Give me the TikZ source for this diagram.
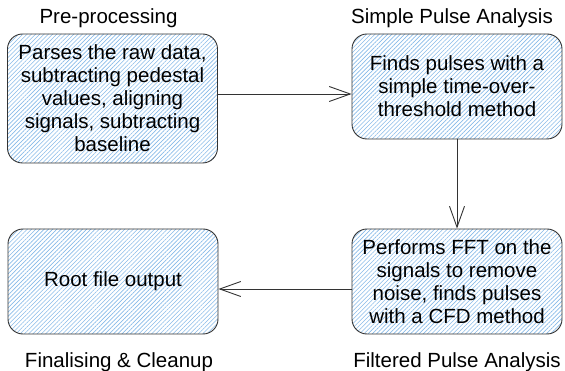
\documentclass[tikz,border=0pt]{standalone}
\usepackage{fontspec}
\setmainfont{Liberation Sans}
\usetikzlibrary{arrows.meta,patterns.meta}

\definecolor{hatchblue}{RGB}{135,186,232}
\definecolor{edgegray}{RGB}{51,51,51}

\begin{document}
\begin{tikzpicture}[x=1pt,y=-1pt,
	stage/.style={draw=edgegray,line width=0.9pt,rounded corners=15pt,
		pattern={Lines[angle=45,distance=3pt,line width=0.6pt]},pattern color=hatchblue,
		minimum width=210pt,minimum height=105pt,align=center,inner sep=0pt,
		font=\fontsize{20.5}{23}\selectfont},
	steptitle/.style={anchor=base,font=\fontsize{20.5}{23}\selectfont},
	flow/.style={draw=edgegray,line width=0.9pt,-{Straight Barb[length=21pt,width=15pt]}}]
		\useasboundingbox (0,0) rectangle (565,371);

		\node[stage,minimum height=129pt] (pre) at (112.5,98.5) {Parses the raw data,\\subtracting pedestal\\values, aligning\\signals, subtracting\\baseline};
		\node[stage] (simple) at (457,86.5) {Finds pulses with a\\simple time-over-\\threshold method};
		\node[stage] (filtered) at (457,281.5) {Performs FFT on the\\signals to remove\\noise, finds pulses\\with a CFD method};
		\node[stage] (final) at (113,281.5) {Root file output};

		\node[steptitle] (pretitle) at (108.5,24) {Pre-processing};
		\node[steptitle] (simpletitle) at (452,24) {Simple Pulse Analysis};
		\node[steptitle] (finaltitle) at (119,367.5) {Finalising \& Cleanup};
		\node[steptitle] (filteredtitle) at (457,367.5) {Filtered Pulse Analysis};

		\draw[flow] ([yshift=4.5pt]pre.east) -- ([yshift=4.5pt]pre.east -| simple.west);
		\draw[flow] (simple) -- (filtered);
		\draw[flow] ([yshift=-7.5pt]filtered.west) -- ([yshift=-7.5pt]final.east);
\end{tikzpicture}
\end{document}
